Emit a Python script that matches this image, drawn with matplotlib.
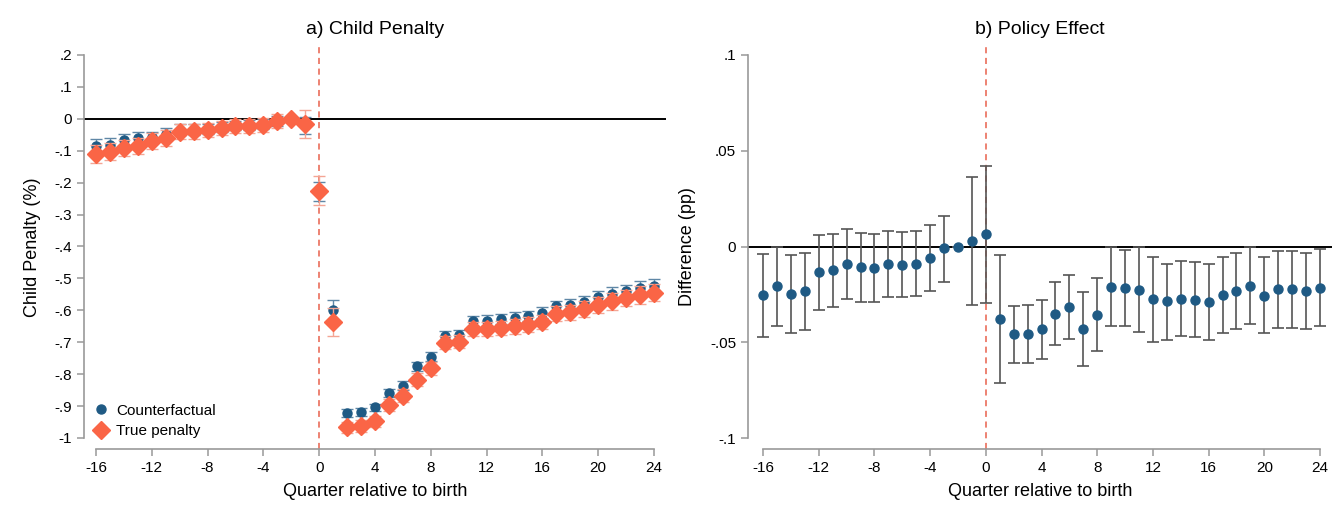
import numpy as np
import matplotlib
matplotlib.use("Agg")
import matplotlib.pyplot as plt

plt.rcParams['font.family'] = ['Liberation Sans', 'DejaVu Sans']

quarters = list(range(-16, 25))

# panel a) child penalty estimates
counterfactual = [-0.084, -0.081, -0.066, -0.061, -0.058, -0.048, -0.035, -0.033, -0.031, -0.026,
                  -0.021, -0.019, -0.016, -0.006, 0.0, -0.020, -0.228, -0.599, -0.922, -0.918,
                  -0.904, -0.860, -0.836, -0.776, -0.745, -0.680, -0.677, -0.635, -0.632, -0.628,
                  -0.623, -0.618, -0.607, -0.588, -0.583, -0.574, -0.559, -0.548, -0.540, -0.530,
                  -0.523]
counterfactual_ci = [0.020, 0.020, 0.019, 0.019, 0.018, 0.018, 0.017, 0.017, 0.016, 0.016,
                     0.015, 0.015, 0.015, 0.016, 0.0, 0.027, 0.030, 0.031, 0.012, 0.012,
                     0.012, 0.013, 0.013, 0.014, 0.014, 0.015, 0.015, 0.016, 0.016, 0.016,
                     0.017, 0.017, 0.017, 0.018, 0.018, 0.019, 0.019, 0.020, 0.020, 0.021,
                     0.021]
true_penalty = [-0.110, -0.103, -0.092, -0.086, -0.071, -0.061, -0.040, -0.039, -0.035, -0.029,
                -0.024, -0.023, -0.019, -0.007, 0.0, -0.017, -0.225, -0.637, -0.967, -0.963,
                -0.948, -0.897, -0.867, -0.818, -0.782, -0.701, -0.698, -0.658, -0.658, -0.656,
                -0.650, -0.645, -0.637, -0.611, -0.606, -0.596, -0.583, -0.572, -0.561, -0.552,
                -0.545]
true_penalty_ci = [0.028, 0.027, 0.026, 0.026, 0.025, 0.025, 0.024, 0.024, 0.023, 0.023,
                   0.022, 0.022, 0.022, 0.022, 0.0, 0.043, 0.045, 0.045, 0.018, 0.018,
                   0.018, 0.019, 0.019, 0.020, 0.020, 0.021, 0.021, 0.022, 0.022, 0.022,
                   0.023, 0.023, 0.023, 0.024, 0.024, 0.025, 0.025, 0.026, 0.026, 0.027,
                   0.027]

# panel b) policy effect (difference) with confidence bounds
difference = [-0.0255, -0.0208, -0.0247, -0.0234, -0.0134, -0.0125, -0.0090, -0.0108, -0.0111, -0.0092,
              -0.0095, -0.0090, -0.0059, -0.0010, 0.0, 0.0031, 0.0063, -0.0377, -0.0455, -0.0455,
              -0.0431, -0.0351, -0.0316, -0.0431, -0.0356, -0.0210, -0.0217, -0.0229, -0.0274, -0.0286,
              -0.0273, -0.0278, -0.0290, -0.0253, -0.0232, -0.0205, -0.0257, -0.0223, -0.0223, -0.0230,
              -0.0215]
diff_upper = [-0.0038, 0.0, -0.0042, -0.0033, 0.0061, 0.0066, 0.0092, 0.0073, 0.0066, 0.0083,
              0.0076, 0.0083, 0.0113, 0.0160, 0.0, 0.0365, 0.0422, -0.0042, -0.0311, -0.0306,
              -0.0277, -0.0184, -0.0150, -0.0237, -0.0163, 0.0, -0.0016, 0.0, -0.0053, -0.0090,
              -0.0074, -0.0079, -0.0090, -0.0053, -0.0033, 0.0, -0.0053, -0.0023, -0.0023, -0.0033,
              -0.0011]
diff_lower = [-0.0472, -0.0417, -0.0453, -0.0434, -0.0330, -0.0314, -0.0272, -0.0288, -0.0288, -0.0266,
              -0.0266, -0.0260, -0.0231, -0.0184, 0.0, -0.0304, -0.0293, -0.0714, -0.0606, -0.0606,
              -0.0585, -0.0512, -0.0485, -0.0625, -0.0548, -0.0415, -0.0415, -0.0448, -0.0496, -0.0486,
              -0.0468, -0.0474, -0.0490, -0.0453, -0.0432, -0.0406, -0.0453, -0.0423, -0.0423, -0.0432,
              -0.0415]

xticks = [-16, -12, -8, -4, 0, 4, 8, 12, 16, 20, 24]
yticks_a = [0.2, 0.1, 0, -0.1, -0.2, -0.3, -0.4, -0.5, -0.6, -0.7, -0.8, -0.9, -1]
yticklabels_a = ['.2', '.1', '0', '-.1', '-.2', '-.3', '-.4', '-.5', '-.6', '-.7', '-.8', '-.9', '-1']
yticks_b = [0.1, 0.05, 0, -0.05, -0.1]
yticklabels_b = ['.1', '.05', '0', '-.05', '-.1']

blue = '#1f5a84'
blue_err = '#5f87a6'
orange = '#fa6546'
orange_err = '#f4a594'
axis_gray = '#999999'

W, H = 1344, 528
fig = plt.figure(figsize=(W / 100, H / 100), dpi=100)


def px_axes(left, right, top, bottom):
    return fig.add_axes([left / W, 1 - bottom / H, (right - left) / W, (bottom - top) / H])


def style(ax, ybounds, yticks, ylabels):
    for s in ['top', 'right']:
        ax.spines[s].set_visible(False)
    for s in ['left', 'bottom']:
        ax.spines[s].set_color(axis_gray)
        ax.spines[s].set_linewidth(1.2)
    ax.spines['bottom'].set_bounds(-16, 24)
    ax.spines['left'].set_bounds(*ybounds)
    ax.set_xticks(xticks)
    ax.set_xticklabels([str(t) for t in xticks])
    ax.set_yticks(yticks)
    ax.set_yticklabels(ylabels)
    ax.tick_params(axis='both', colors=axis_gray, labelcolor='black', labelsize=11, length=5, width=1.1)
    ax.set_xlabel('Quarter relative to birth', fontsize=13, labelpad=6)


# a) Child Penalty
ax1 = px_axes(84, 666, 45, 449)
ax1.set_xlim(-16.86, 24.86)
ax1.set_ylim(-1.0345, 0.231)
ax1.axhline(0, color='black', lw=1.4, zorder=1)
ax1.axvline(0, color='#e8604c', lw=1.1, ls=(0, (4, 3)), zorder=1)
ax1.errorbar(quarters, counterfactual, yerr=counterfactual_ci, fmt='o', color=blue, ms=6.5,
             ecolor=blue_err, elinewidth=1, capsize=4, capthick=1, label='Counterfactual', zorder=3)
ax1.errorbar(quarters, true_penalty, yerr=true_penalty_ci, fmt='D', color=orange, ms=9.5,
             ecolor=orange_err, elinewidth=1, capsize=4, capthick=1, label='True penalty', zorder=4)
style(ax1, (-1, 0.2), yticks_a, yticklabels_a)
ax1.set_ylabel('Child Penalty (%)', fontsize=13, labelpad=10)
ax1.set_title('a) Child Penalty', fontsize=14, pad=8)
handles, labels = ax1.get_legend_handles_labels()
handles = [h[0] for h in handles]
ax1.legend(handles, labels, loc='lower left', bbox_to_anchor=(-0.01, -0.008), frameon=False,
           fontsize=11, handletextpad=0.4, labelspacing=0.45, handlelength=1.2)

# b) Policy Effect
ax2 = px_axes(748, 1332, 45, 449)
ax2.set_xlim(-17.08, 24.86)
ax2.set_ylim(-0.1057, 0.1052)
ax2.axhline(0, color='black', lw=1.4, zorder=1)
ax2.axvline(0, color='#e8604c', lw=1.1, ls=(0, (4, 3)), zorder=1)
diff = np.array(difference)
yerr = np.vstack([diff - np.array(diff_lower), np.array(diff_upper) - diff])
ax2.errorbar(quarters, diff, yerr=yerr, fmt='o', color=blue, ms=6.5,
             ecolor='#555555', elinewidth=1.2, capsize=4, capthick=1.2, zorder=3)
style(ax2, (-0.1, 0.1), yticks_b, yticklabels_b)
ax2.set_ylabel('Difference (pp)', fontsize=13, labelpad=10)
ax2.set_title('b) Policy Effect', fontsize=14, pad=8)

fig.savefig('out.png', dpi=100)
